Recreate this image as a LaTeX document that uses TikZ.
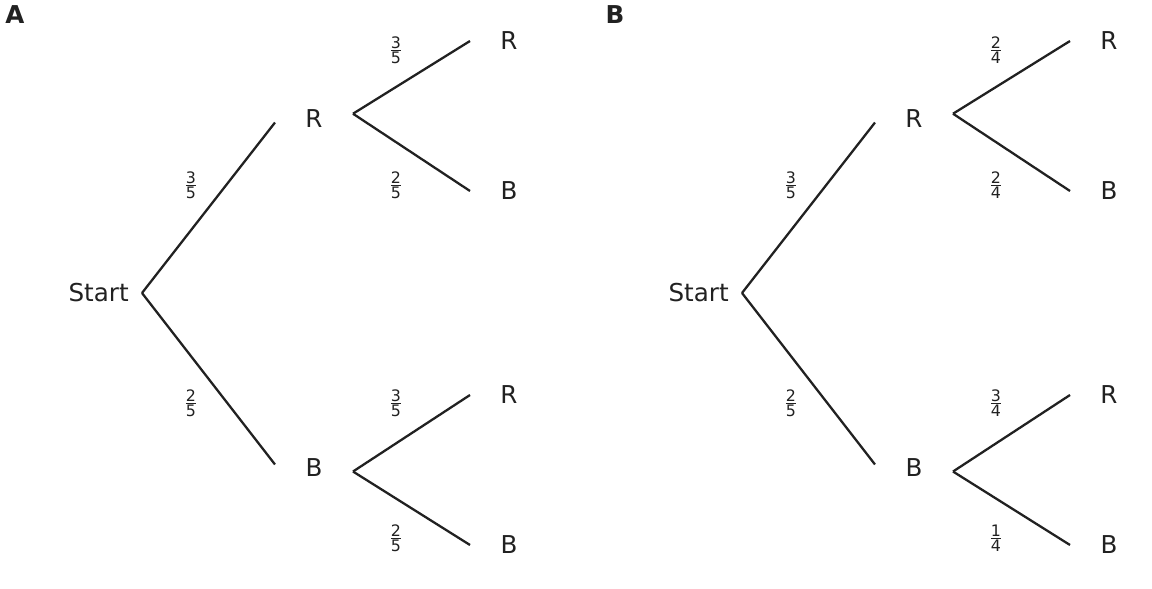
\documentclass[tikz,border=0pt]{standalone}
\usepackage{fontspec}
\setmainfont{DejaVu Sans}
\newcommand\myfr[2]{\ensuremath{\frac{\hbox{\fontsize{9}{10}\selectfont #1}}{\hbox{\fontsize{9}{10}\selectfont #2}}}}
\begin{document}
\begin{tikzpicture}[x=0.02cm,y=-0.02cm,
  lbl/.style={font=\fontsize{14}{16}\selectfont, text=black!87, inner sep=0pt},
  nd/.style={lbl, minimum width=44, minimum height=10},
  ed/.style={draw=black!87, line width=1.3pt},
  fr/.style={inner sep=0pt, text=black!87},
  pan/.style={font=\fontsize{14}{16}\selectfont\bfseries, text=black!87, inner sep=0pt}]
\useasboundingbox (0,0) rectangle (1152,588);
\foreach \p/\ox/\a/\b/\c/\d/\e/\f in {A/0/3/5/2/5/3/5, B/600/2/4/2/4/3/4}{
  \node[pan] (pan\p) at (15+\ox,15) {\p};
  \node[lbl, anchor=east] (S\p) at (129+\ox,293) {Start};
  \coordinate (s\p) at (142+\ox,293);
  \node[nd] (R\p) at (314+\ox,119) {R};
  \node[nd] (B\p) at (314+\ox,468) {B};
  \node[nd] (RR\p) at (509+\ox,41) {R};
  \node[nd] (RB\p) at (509+\ox,191) {B};
  \node[nd] (BR\p) at (509+\ox,395) {R};
  \node[nd] (BB\p) at (509+\ox,545) {B};
  \draw[ed] (s\p) -- ([yshift=-2]R\p.west);
  \draw[ed] (s\p) -- ([yshift=2]B\p.west);
  \draw[ed] ([yshift=3]R\p.east) -- (RR\p.west);
  \draw[ed] ([yshift=3]R\p.east) -- (RB\p.west);
  \draw[ed] ([yshift=-2]B\p.east) -- (BR\p.west);
  \draw[ed] ([yshift=-2]B\p.east) -- (BB\p.west);
}
\node[fr] (f1) at (191,185) {\myfr{3}{5}};
\node[fr] (f2) at (191,403) {\myfr{2}{5}};
\node[fr] (f3) at (396,50) {\myfr{3}{5}};
\node[fr] (f4) at (396,185) {\myfr{2}{5}};
\node[fr] (f5) at (396,403) {\myfr{3}{5}};
\node[fr] (f6) at (396,538) {\myfr{2}{5}};
\node[fr] (g1) at (791,185) {\myfr{3}{5}};
\node[fr] (g2) at (791,403) {\myfr{2}{5}};
\node[fr] (g3) at (996,50) {\myfr{2}{4}};
\node[fr] (g4) at (996,185) {\myfr{2}{4}};
\node[fr] (g5) at (996,403) {\myfr{3}{4}};
\node[fr] (g6) at (996,538) {\myfr{1}{4}};
\end{tikzpicture}
\end{document}
